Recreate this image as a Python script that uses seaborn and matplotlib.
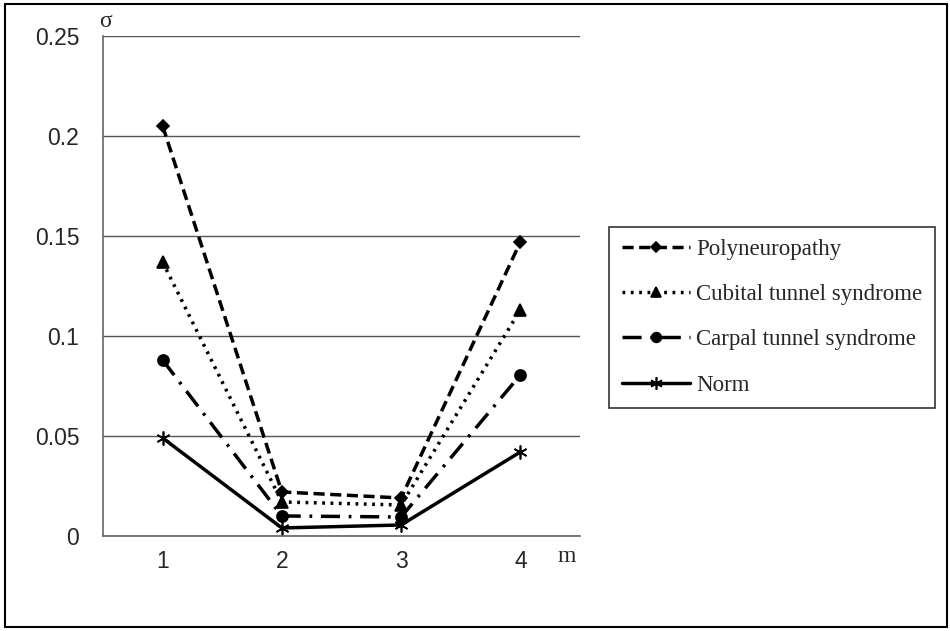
import numpy as np
import pandas as pd
import matplotlib.pyplot as plt
import seaborn as sns
from matplotlib.lines import Line2D
from matplotlib.patches import Rectangle

m_values = [1, 2, 3, 4]
polyneuropathy = [0.205, 0.022, 0.019, 0.147]
cubital = [0.137, 0.017, 0.0155, 0.113]
carpal = [0.088, 0.010, 0.0095, 0.0805]
norm = [0.049, 0.004, 0.0055, 0.042]
series_names = ["Polyneuropathy", "Cubital tunnel syndrome", "Carpal tunnel syndrome", "Norm"]
y_ticks = [0, 0.05, 0.1, 0.15, 0.2, 0.25]
y_tick_labels = ["0", "0.05", "0.1", "0.15", "0.2", "0.25"]

df = pd.DataFrame({
    "m": m_values * 4,
    "sigma": polyneuropathy + cubital + carpal + norm,
    "series": np.repeat(series_names, len(m_values)),
})

sns.set_style("white")
plt.rcParams["font.family"] = ["Liberation Serif", "DejaVu Serif"]

styles = {
    "Polyneuropathy": dict(ls=(0, (3.2, 1.6)), marker="D", ms=6),
    "Cubital tunnel syndrome": dict(ls=(0, (0.8, 1.6)), marker="^", ms=8),
    "Carpal tunnel syndrome": dict(ls=(0, (5.5, 2.5, 0.8, 2.5)), marker="o", ms=8),
    "Norm": dict(ls="-", marker=(6, 2, 0), ms=10),
}

fig = plt.figure(figsize=(9.5, 6.31), dpi=100)
ax = fig.add_axes([0.1084, 0.1506, 0.5021, 0.7924])

handles = []
for name in series_names:
    st = styles[name]
    sub = df[df["series"] == name]
    sns.lineplot(data=sub, x="m", y="sigma", ax=ax, color="black", lw=2.5,
                 linestyle=st["ls"], marker=st["marker"], markersize=st["ms"],
                 markeredgecolor="black", markerfacecolor="black", markeredgewidth=1.2,
                 legend=False)
    handles.append(Line2D([], [], color="black", lw=2.5, linestyle=st["ls"],
                          marker=st["marker"], markersize=st["ms"] - 1,
                          markeredgecolor="black", markerfacecolor="black",
                          markeredgewidth=1.2, label=name))

ax.set_xlim(0.5, 4.5)
ax.set_ylim(0, 0.25)
ax.set_xticks(m_values)
ax.set_xticklabels([str(v) for v in m_values], family=["Liberation Sans"], fontsize=16.5)
ax.set_yticks(y_ticks)
ax.set_yticklabels(y_tick_labels, family=["Liberation Sans"], fontsize=16.5)
ax.tick_params(axis="y", length=0, pad=17)
ax.tick_params(axis="x", length=0, pad=10)
ax.set_xlabel("")
ax.set_ylabel("")
ax.grid(True, axis="y", color="#555555", lw=1.0)
ax.set_axisbelow(True)
for s in ("top", "right"):
    ax.spines[s].set_visible(False)
for s in ("left", "bottom"):
    ax.spines[s].set_color("#666666")
    ax.spines[s].set_linewidth(1.2)

fig.text(0.111, 0.966, "σ", fontsize=17, ha="center", va="center")
fig.text(0.596, 0.118, "m", fontsize=17, ha="center", va="center")

leg = fig.legend(handles=handles, loc="center left", bbox_to_anchor=(0.641, 0.497),
                 frameon=True, fancybox=False, edgecolor="black", fontsize=16.5,
                 handlelength=3.0, labelspacing=1.05, borderpad=0.55, handletextpad=0.25,
                 borderaxespad=0)
leg.get_frame().set_linewidth(1.2)

fig.patches.append(Rectangle((0.005, 0.006), 0.992, 0.988, transform=fig.transFigure,
                             fill=False, edgecolor="black", lw=1.5))

fig.savefig("out.png", dpi=100)
